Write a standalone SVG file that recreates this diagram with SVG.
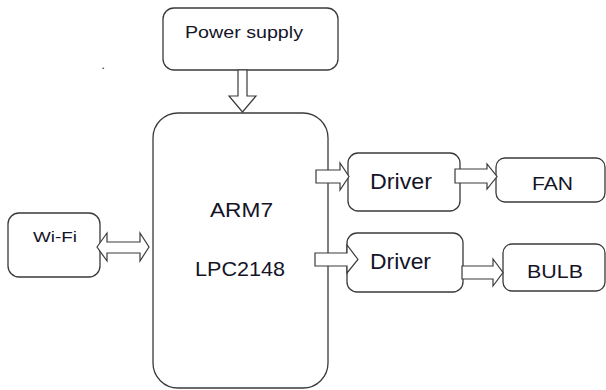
<svg xmlns="http://www.w3.org/2000/svg" width="606" height="390" viewBox="0 0 606 390">
<style>
.box{fill:#fff;stroke:#3a3a3a;stroke-width:1.3}
.arr{fill:#fff;stroke:#3a3a3a;stroke-width:1.2;stroke-linejoin:miter}
.t{font-family:"Liberation Sans",Arial,sans-serif;fill:#141428}
</style>
<rect width="606" height="390" fill="#fff"/>
<g id="power">
<rect class="box" x="163" y="8" width="175" height="62" rx="11"/>
<text class="t" x="185" y="38" font-size="16" textLength="118" lengthAdjust="spacingAndGlyphs">Power supply</text>
</g>
<g id="arm">
<rect class="box" x="153" y="113" width="175" height="275" rx="25"/>
<text class="t" x="210" y="217" font-size="21" textLength="63" lengthAdjust="spacingAndGlyphs">ARM7</text>
<text class="t" x="195" y="276" font-size="21" textLength="90" lengthAdjust="spacingAndGlyphs">LPC2148</text>
</g>
<g id="driver1">
<rect class="box" x="348" y="153" width="112" height="58" rx="10"/>
<text class="t" x="370" y="189" font-size="22" textLength="62" lengthAdjust="spacingAndGlyphs">Driver</text>
</g>
<g id="driver2">
<rect class="box" x="347" y="233" width="116" height="59" rx="10"/>
<text class="t" x="370" y="269" font-size="22" textLength="61" lengthAdjust="spacingAndGlyphs">Driver</text>
</g>
<g id="fan">
<rect class="box" x="496" y="158" width="109" height="44" rx="9"/>
<text class="t" x="532" y="190" font-size="18" textLength="41" lengthAdjust="spacingAndGlyphs">FAN</text>
</g>
<g id="bulb">
<rect class="box" x="503" y="244" width="102" height="47" rx="9"/>
<text class="t" x="527" y="278" font-size="18" textLength="56" lengthAdjust="spacingAndGlyphs">BULB</text>
</g>
<g id="wifi">
<rect class="box" x="8" y="213" width="92" height="64" rx="11"/>
<text class="t" x="33" y="242" font-size="14" textLength="44" lengthAdjust="spacingAndGlyphs">Wi-Fi</text>
</g>
<text class="t" x="101.5" y="69" font-size="12">.</text>
<g id="connectors">
<polygon class="arr" points="238,70 247,70 247,96 256,96 242.5,112 229,96 238,96"/>
<polygon class="arr" points="316,170 340,170 340,163 349,176.5 340,190 340,183 316,183"/>
<polygon class="arr" points="455,169 487,169 487,164 497,176.5 487,189 487,183 455,183"/>
<polygon class="arr" points="315,253 347,253 347,245 358,259.5 347,273 347,266 315,266"/>
<polygon class="arr" points="462,266 493,266 493,259 503,272.5 493,286 493,279 462,279"/>
<polygon class="arr" points="97,247 107,233 107,242 140,242 140,233 149,247 140,261 140,253 107,253 107,261"/>
</g>
</svg>
